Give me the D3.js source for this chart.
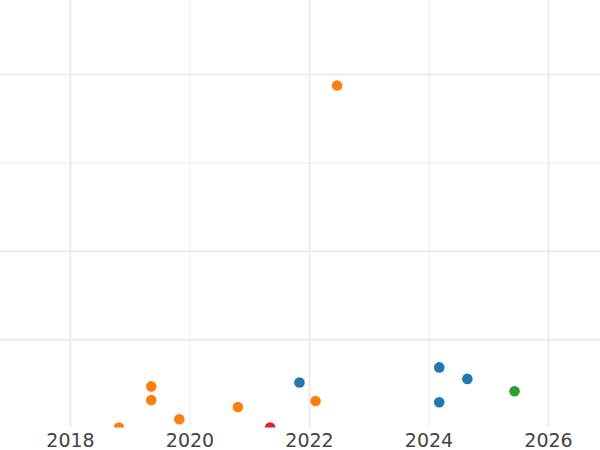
<!DOCTYPE html>
<html>
<head>
<meta charset="utf-8">
<script src="https://cdn.jsdelivr.net/npm/d3@7"></script>
<style>
  html, body { margin: 0; padding: 0; background: #fff; }
  svg { display: block; }
</style>
</head>
<body>
<svg id="chart" width="600" height="450"></svg>
<script>
// Data (x = decimal year, y = value)
const seriesNames = ["blue", "orange", "green", "red"];
const seriesColors = ["#1f77b4", "#ff7f0e", "#2ca02c", "#d62728"];
const blueX = [2021.84, 2024.18, 2024.65, 2024.18];
const blueY = [51, 68, 55, 28.5];
const orangeX = [2022.47, 2019.36, 2019.36, 2018.82, 2019.83, 2020.81, 2022.11];
const orangeY = [387, 46.5, 31, 0, 9.3, 23.2, 30];
const greenX = [2025.44];
const greenY = [41];
const redX = [2021.35];
const redY = [0];
const xTicks = [2018, 2020, 2022, 2024, 2026];
const yTicks = [100, 200, 300, 400];

const series = [
  { name: seriesNames[0], color: seriesColors[0], xs: blueX, ys: blueY },
  { name: seriesNames[1], color: seriesColors[1], xs: orangeX, ys: orangeY },
  { name: seriesNames[2], color: seriesColors[2], xs: greenX, ys: greenY },
  { name: seriesNames[3], color: seriesColors[3], xs: redX, ys: redY }
];

const svg = d3.select("#chart");
const W = 600, plotBottom = 427.5;

const x = d3.scaleLinear().domain([2018, 2026]).range([70, 548]);
const y = d3.scaleLinear().domain([0, 400]).range([plotBottom, 74]);

svg.append("defs").append("clipPath").attr("id", "plotclip")
  .append("rect").attr("x", 0).attr("y", 0).attr("width", W).attr("height", plotBottom);

const grid = svg.append("g").attr("clip-path", "url(#plotclip)");
// vertical grid
grid.append("g")
  .attr("transform", `translate(0,${plotBottom})`)
  .call(d3.axisBottom(x).tickValues(xTicks).tickSize(-plotBottom).tickFormat(""))
  .call(g => g.select(".domain").remove())
  .call(g => g.selectAll("line").attr("stroke", "#ebebeb")
    .attr("stroke-width", (d, i) => i % 2 === 0 ? 2 : 1));
// horizontal grid
grid.append("g")
  .call(d3.axisLeft(y).tickValues(yTicks).tickSize(-W).tickFormat(""))
  .call(g => g.select(".domain").remove())
  .call(g => g.selectAll("line").attr("stroke", "#ebebeb")
    .attr("stroke-width", (d, i) => i === 2 ? 1 : 2));

// points
const pts = svg.append("g").attr("clip-path", "url(#plotclip)");
series.forEach(s => {
  pts.selectAll(null)
    .data(s.xs.map((v, i) => [v, s.ys[i]]))
    .join("circle")
    .attr("cx", d => x(d[0]))
    .attr("cy", d => y(d[1]))
    .attr("r", 5.3)
    .attr("fill", s.color);
});

// x axis labels
const xAxis = svg.append("g")
  .attr("transform", `translate(0,${plotBottom})`)
  .call(d3.axisBottom(x).tickValues(xTicks).tickSize(0).tickPadding(6).tickFormat(d3.format("d")));
xAxis.select(".domain").remove();
xAxis.selectAll("text")
  .attr("fill", "#444")
  .style("font-family", "DejaVu Sans")
  .style("font-size", "19px");
</script>
</body>
</html>
